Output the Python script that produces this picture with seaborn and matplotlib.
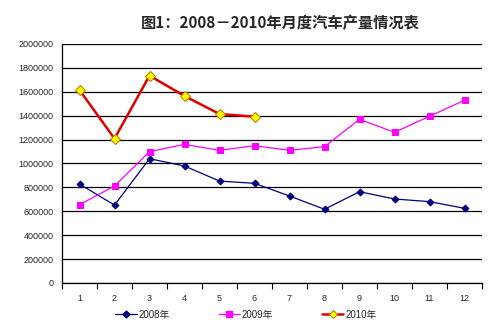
import matplotlib
matplotlib.use("Agg")
import matplotlib.pyplot as plt
import seaborn as sns
import pandas as pd
from matplotlib.lines import Line2D
from matplotlib.ticker import FixedLocator

months = list(range(1, 13))
month_labels = [str(m) for m in months]
y2008 = [828000, 652000, 1040000, 979000, 853000, 834000, 728000, 617000, 764000, 703000, 681000, 625000]
y2009 = [655000, 812000, 1099000, 1160000, 1110000, 1149000, 1110000, 1141000, 1370000, 1261000, 1395000, 1529000]
y2010 = [1615000, 1208000, 1735000, 1565000, 1414000, 1392000]
series_names = ["2008年", "2009年", "2010年"]
title = "图1：2008－2010年月度汽车产量情况表"

sns.set_theme(style="white")
plt.rcParams['font.family'] = ['Liberation Sans', 'Noto Sans CJK SC', 'DejaVu Sans']

fig = plt.figure(figsize=(5.0, 3.28), dpi=100)
ax = fig.add_axes([0.124, 0.1372, 0.84, 0.7287])

df08 = pd.DataFrame({"month": months, "value": y2008})
df09 = pd.DataFrame({"month": months, "value": y2009})
df10 = pd.DataFrame({"month": months[:len(y2010)], "value": y2010})

sns.lineplot(data=df08, x="month", y="value", ax=ax, color="#000080", linewidth=0.9,
             marker="D", markersize=3.5, markerfacecolor="#000080", markeredgecolor="#000080")
sns.lineplot(data=df09, x="month", y="value", ax=ax, color="#FF00FF", linewidth=0.9,
             marker="s", markersize=4, markerfacecolor="#FF00FF", markeredgecolor="#FF00FF")
sns.lineplot(data=df10, x="month", y="value", ax=ax, color="#E00000", linewidth=1.8,
             marker="D", markersize=5.5, markerfacecolor="#FFFF00", markeredgecolor="#C08000",
             markeredgewidth=0.8, zorder=5)

ax.set_xlim(0.5, 12.5)
ax.set_ylim(0, 2000000)
ax.set_yticks(range(0, 2000001, 200000))
ax.set_yticklabels([str(v) for v in range(0, 2000001, 200000)], fontsize=6.5)
ax.set_xticks(months)
ax.set_xticklabels(month_labels, fontsize=6.5)
ax.xaxis.set_minor_locator(FixedLocator([m + 0.5 for m in range(0, 13)]))
ax.tick_params(axis='x', which='major', length=0, pad=8)
ax.tick_params(axis='x', which='minor', length=4, width=0.8, color='black', direction='out', bottom=True)
ax.tick_params(axis='y', length=0, pad=6)
ax.set_xlabel("")
ax.set_ylabel("")

ax.grid(axis='y', color='black', linewidth=0.9)
ax.grid(axis='x', visible=False)
ax.set_axisbelow(True)
for s in ['top', 'right']:
    ax.spines[s].set_visible(False)
for s in ['left', 'bottom']:
    ax.spines[s].set_color('black')
    ax.spines[s].set_linewidth(0.9)

fig.text(0.56, 0.93, title, ha='center', va='center', fontsize=11, fontweight='bold',
         family=['Noto Sans CJK SC', 'DejaVu Sans'])

handles = [
    Line2D([], [], color="#000080", linewidth=0.9, marker="D", markersize=3.5,
           markerfacecolor="#000080", markeredgecolor="#000080"),
    Line2D([], [], color="#FF00FF", linewidth=0.9, marker="s", markersize=4,
           markerfacecolor="#FF00FF", markeredgecolor="#FF00FF"),
    Line2D([], [], color="#E00000", linewidth=1.8, marker="D", markersize=4.5,
           markerfacecolor="#FFFF00", markeredgecolor="#C08000", markeredgewidth=0.8),
]
fig.legend(handles, series_names, loc='center', bbox_to_anchor=(0.492, 0.04), ncol=3,
           frameon=False, handlelength=2.2, handletextpad=0.2, columnspacing=5.0,
           prop={'family': ['Liberation Sans', 'Noto Sans CJK SC'], 'size': 7})

fig.savefig("out.png", dpi=100)
